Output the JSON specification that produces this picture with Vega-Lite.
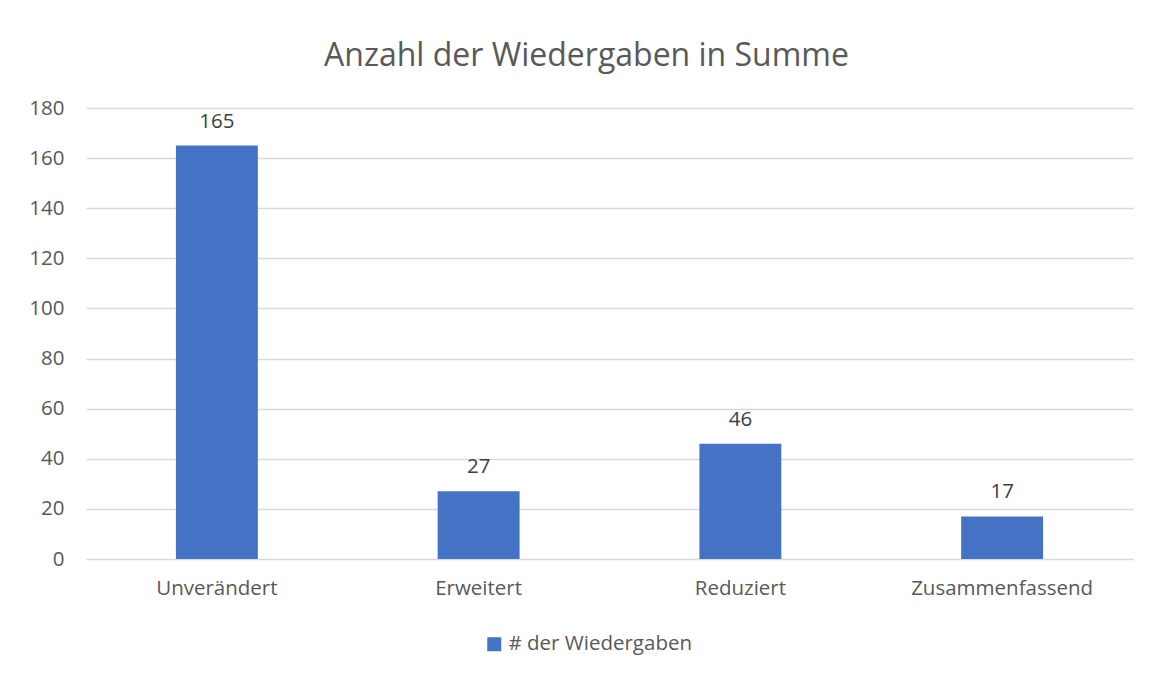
{
  "$schema": "https://vega.github.io/schema/vega-lite/v6.json",
  "autosize": {"type": "none"},
  "width": 1047,
  "height": 451,
  "padding": {"left": 86, "top": 108, "right": 19, "bottom": 116},
  "background": "white",
  "title": {
    "text": "Anzahl der Wiedergaben in Summe",
    "anchor": "middle",
    "frame": "group",
    "font": "Open Sans",
    "fontSize": 32,
    "fontWeight": "normal",
    "color": "#595959",
    "offset": 25,
    "dx": -23
  },
  "data": {
    "values": [
      {"Kategorie": "Unverändert", "Anzahl": 165, "Serie": "# der Wiedergaben"},
      {"Kategorie": "Erweitert", "Anzahl": 27, "Serie": "# der Wiedergaben"},
      {"Kategorie": "Reduziert", "Anzahl": 46, "Serie": "# der Wiedergaben"},
      {"Kategorie": "Zusammenfassend", "Anzahl": 17, "Serie": "# der Wiedergaben"}
    ]
  },
  "encoding": {
    "x": {
      "field": "Kategorie",
      "type": "nominal",
      "sort": null,
      "scale": {"paddingInner": 0.687, "paddingOuter": 0.3435},
      "axis": {
        "title": null,
        "labelAngle": 0,
        "labelFont": "Open Sans",
        "labelFontSize": 20.5,
        "labelColor": "#595959",
        "labelPadding": 19,
        "labelLimit": 0,
        "ticks": false,
        "domain": false,
        "grid": false
      }
    },
    "y": {
      "field": "Anzahl",
      "type": "quantitative",
      "scale": {"domain": [0, 180]},
      "axis": {
        "title": null,
        "values": [0, 20, 40, 60, 80, 100, 120, 140, 160, 180],
        "labelFont": "Open Sans",
        "labelFontSize": 20.5,
        "labelColor": "#595959",
        "labelPadding": 22,
        "ticks": false,
        "domain": false,
        "grid": true,
        "gridColor": "#D9D9D9",
        "gridWidth": 1.5
      }
    }
  },
  "layer": [
    {
      "mark": {"type": "bar", "color": "#4472C4"},
      "encoding": {
        "color": {
          "field": "Serie",
          "type": "nominal",
          "scale": {"range": ["#4472C4"]},
          "legend": {
            "title": null,
            "orient": "none",
            "legendX": 398,
            "legendY": 526,
            "symbolType": "square",
            "symbolSize": 196,
            "symbolStrokeWidth": 0,
            "labelFont": "Open Sans",
            "labelFontSize": 20.5,
            "labelColor": "#595959",
            "labelOffset": 4,
            "labelLimit": 0,
            "padding": 0
          }
        }
      }
    },
    {
      "mark": {
        "type": "text",
        "baseline": "alphabetic",
        "dy": -18,
        "font": "Open Sans",
        "fontSize": 20.5,
        "color": "#404040"
      },
      "encoding": {
        "text": {"field": "Anzahl", "type": "quantitative"}
      }
    }
  ],
  "config": {
    "view": {"stroke": null}
  }
}
